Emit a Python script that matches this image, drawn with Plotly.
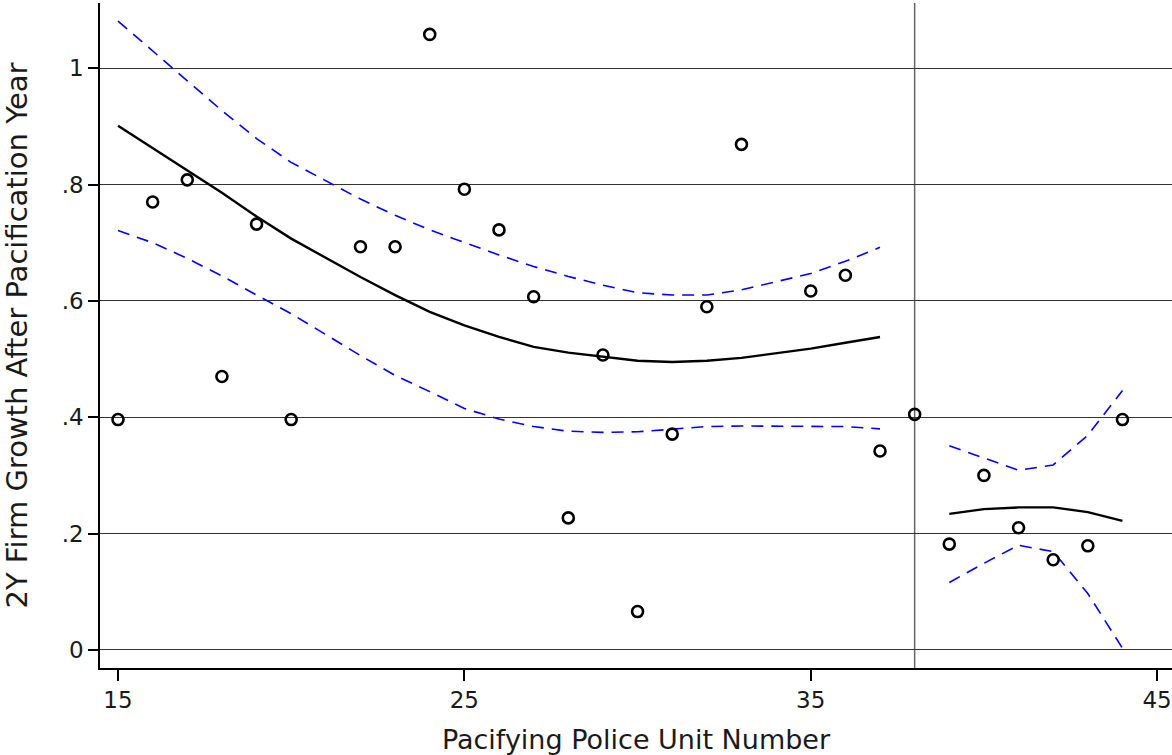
import plotly.graph_objects as go

# Observed 2-year firm growth by pacifying police unit number
unit = [15, 16, 17, 18, 19, 20, 22, 23, 24, 25, 26, 27, 28, 29, 30, 31, 32, 33,
        35, 36, 37, 38, 39, 40, 41, 42, 43, 44]
growth = [0.396, 0.770, 0.808, 0.470, 0.732, 0.396, 0.693, 0.693, 1.058, 0.792,
          0.722, 0.607, 0.227, 0.507, 0.066, 0.371, 0.590, 0.869, 0.617, 0.644,
          0.342, 0.405, 0.182, 0.300, 0.210, 0.155, 0.179, 0.396]

# Fitted values and confidence bounds before the cutoff
unit_pre = [15, 16, 17, 18, 19, 20, 22, 23, 24, 25, 26, 27, 28, 29, 30, 31, 32,
            33, 35, 36, 37]
fit_pre = [0.901, 0.863, 0.824, 0.786, 0.745, 0.707, 0.641, 0.610, 0.581, 0.558,
           0.538, 0.521, 0.511, 0.504, 0.497, 0.495, 0.497, 0.502, 0.518, 0.528,
           0.538]
hi_pre = [1.081, 1.030, 0.978, 0.927, 0.879, 0.838, 0.775, 0.747, 0.722, 0.700,
          0.679, 0.659, 0.642, 0.627, 0.614, 0.610, 0.610, 0.619, 0.647, 0.668,
          0.692]
lo_pre = [0.721, 0.700, 0.673, 0.643, 0.610, 0.578, 0.506, 0.472, 0.444, 0.415,
          0.397, 0.384, 0.376, 0.374, 0.375, 0.379, 0.384, 0.385, 0.385, 0.384,
          0.380]

# Fitted values and confidence bounds after the cutoff
unit_post = [39, 40, 41, 42, 43, 44]
fit_post = [0.234, 0.242, 0.245, 0.245, 0.237, 0.222]
hi_post = [0.351, 0.330, 0.309, 0.318, 0.369, 0.446]
lo_post = [0.116, 0.149, 0.180, 0.169, 0.097, 0.003]

cutoff = 38

x_ticks = [15, 25, 35, 45]
y_ticks = [0, 0.2, 0.4, 0.6, 0.8, 1.0]
y_tick_text = ["0", ".2", ".4", ".6", ".8", "1"]

FONT = "DejaVu Sans"
TEXT = "#1a1a1a"
BLUE = "#0000ff"
DASH = "12px,8px"

fig = go.Figure()

for xs, lo, hi, fit in [(unit_pre, lo_pre, hi_pre, fit_pre),
                        (unit_post, lo_post, hi_post, fit_post)]:
    for band in (hi, lo):
        fig.add_trace(go.Scatter(x=xs, y=band, mode="lines",
                                 line=dict(color=BLUE, width=1.6, dash=DASH),
                                 hoverinfo="skip"))
    fig.add_trace(go.Scatter(x=xs, y=fit, mode="lines",
                             line=dict(color="black", width=2.4)))

fig.add_trace(go.Scatter(
    x=unit, y=growth, mode="markers",
    marker=dict(symbol="circle-open", size=11, color="black",
                line=dict(color="black", width=2.6)),
))

fig.add_shape(type="line", xref="x", yref="paper", x0=cutoff, x1=cutoff,
              y0=0, y1=1, line=dict(color="#666666", width=1.5), layer="below")

fig.update_layout(
    width=1172, height=755,
    margin=dict(l=100, r=0, t=3, b=87),
    paper_bgcolor="white", plot_bgcolor="white",
    showlegend=False,
    font=dict(family=FONT, color=TEXT, size=23),
    xaxis=dict(
        range=[14.48, 45.43], tickvals=x_ticks, ticktext=[str(t) for t in x_ticks],
        showgrid=False, zeroline=False,
        showline=True, linecolor="black", linewidth=1.5,
        ticks="outside", ticklen=11, tickwidth=1.5, tickcolor="black",
        tickfont=dict(family=FONT, size=23, color=TEXT),
        title=dict(text="Pacifying Police Unit Number", standoff=18,
                   font=dict(family=FONT, size=27, color=TEXT)),
    ),
    yaxis=dict(
        range=[-0.031, 1.112], tickvals=y_ticks, ticktext=y_tick_text,
        showgrid=True, gridcolor="#333333", gridwidth=1,
        zeroline=False,
        showline=True, linecolor="black", linewidth=1.5,
        ticks="outside", ticklen=10, tickwidth=1.5, tickcolor="black",
        tickfont=dict(family=FONT, size=23, color=TEXT),
        title=dict(text="2Y Firm Growth After Pacification Year", standoff=31,
                   font=dict(family=FONT, size=29, color=TEXT)),
    ),
)

fig.write_html("out.html")
